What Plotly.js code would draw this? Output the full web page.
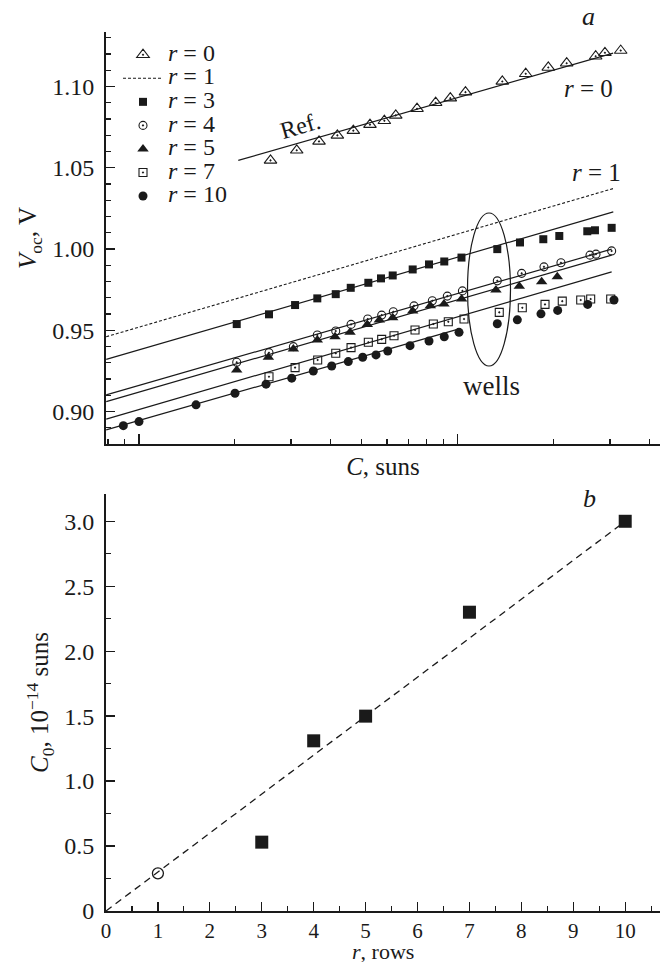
<!DOCTYPE html>
<html><head><meta charset="utf-8">
<script src="https://cdn.plot.ly/plotly-3.0.1.min.js"></script>
<style>html,body{margin:0;padding:0;background:#fff}</style>
</head><body><div id="chart" style="width:667px;height:964px"></div>
<script>
// ---- Panel a: Voc vs C (log) ----
const r0C = [2.587,3.126,3.672,4.192,4.704,5.305,5.885,6.390,7.450,8.523,9.474,10.57,13.79,16.33,19.22,21.95,27.06,28.93,32.42];
const r0V = [1.0545,1.0607,1.0662,1.0699,1.0728,1.0765,1.0789,1.0822,1.0863,1.0900,1.0928,1.0965,1.1031,1.1078,1.1117,1.1143,1.1186,1.1207,1.1221];
const r3C = [2.027,2.559,3.089,3.627,4.143,4.617,5.242,5.744,6.251,7.221,8.124,9.070,10.27,13.30,15.67,18.54,20.81,25.47,26.92,30.37];
const r3V = [0.9538,0.9598,0.9655,0.9696,0.9722,0.9761,0.9792,0.9819,0.9837,0.9874,0.9905,0.9923,0.9947,0.9999,1.0040,1.0060,1.0080,1.0109,1.0115,1.0130];
const r4C = [2.027,2.559,3.051,3.627,4.143,4.627,5.219,5.773,6.278,7.290,8.321,9.271,10.34,13.30,15.86,18.63,21.06,25.97,27.12,30.37];
const r4V = [0.9303,0.9362,0.9399,0.9471,0.9495,0.9536,0.9569,0.9593,0.9614,0.9650,0.9681,0.9710,0.9742,0.9804,0.9850,0.9890,0.9915,0.9962,0.9968,0.9988];
const r5C = [2.027,2.547,3.051,3.627,4.122,4.593,5.203,5.675,6.251,7.221,8.202,9.050,10.28,13.17,15.59,18.32,20.51];
const r5V = [0.9255,0.9334,0.9385,0.9440,0.9460,0.9487,0.9536,0.9563,0.9577,0.9618,0.9650,0.9661,0.9692,0.9747,0.9771,0.9798,0.9829];
const r7C = [2.559,3.089,3.637,4.143,4.627,5.242,5.773,6.310,7.344,8.381,9.338,10.46,13.49,15.93,18.77,21.26,24.29,26.10,30.16];
const r7V = [0.9214,0.9270,0.9317,0.9358,0.9393,0.9426,0.9444,0.9466,0.9501,0.9538,0.9552,0.9569,0.9610,0.9638,0.9659,0.9679,0.9686,0.9692,0.9692];
const r10C = [0.894,1.001,1.511,2.002,2.505,3.015,3.524,4.024,4.536,5.033,5.540,6.030,7.084,8.124,9.070,10.09,13.30,15.37,18.23,20.57,25.54,30.89];
const r10V = [0.8913,0.8938,0.9041,0.9112,0.9168,0.9205,0.9249,0.9280,0.9307,0.9334,0.9348,0.9372,0.9405,0.9434,0.9460,0.9487,0.9540,0.9564,0.9601,0.9622,0.9659,0.9686];
// fitted straight lines (end points)
const fit0C = [2.05, 30.7],  fit0V = [1.0545, 1.1205];
const fit1C = [0.79, 30.73], fit1V = [0.9460, 1.0372];
const fit3C = [0.79, 30.73], fit3V = [0.9321, 1.0228];
const fit4C = [0.79, 30.37], fit4V = [0.9102, 0.9999];
const fit5C = [0.79, 30.37], fit5V = [0.9061, 0.9962];
const fit7C = [0.79, 30.37], fit7V = [0.8953, 0.9859];
const fit10C = [0.79, 10.16], fit10V = [0.8887, 0.9510];
const legendLabels = ['0', '1', '3', '4', '5', '7', '10'];
// ---- Panel b: C0 vs r ----
const rOpen = [1], c0Open = [0.29];
const rRows = [3, 4, 5, 7, 10];
const c0Rows = [0.53, 1.31, 1.50, 2.30, 3.00];
const fitR = [0, 10], fitC0 = [0, 3.0];
const bTickVals = [0, 0.5, 1.0, 1.5, 2.0, 2.5, 3.0];
const bTickText = ['0', '0.5', '1.0', '1.5', '2.0', '2.5', '3.0'];

const K = '#1a1a1a';
const FONT = 'Liberation Serif, Times New Roman, serif';
const legName = i => '<span style="font-size:24px"><i>r</i> = ' + legendLabels[i] + '</span>';

function line(x, y, dash, xa, ya, w) {
  return {x, y, xaxis: xa, yaxis: ya, mode: 'lines', showlegend: false, hoverinfo: 'skip',
    line: {color: K, width: w || 1.2, dash: dash || 'solid'}};
}
function pts(name, x, y, symbol, size, lw) {
  return {x, y, name, mode: 'markers', xaxis: 'x', yaxis: 'y',
    marker: {symbol, size, color: K, line: {color: K, width: lw}}};
}

const traces = [
  line(fit0C, fit0V, 'solid', 'x', 'y'),
  line(fit3C, fit3V, 'solid', 'x', 'y'),
  line(fit4C, fit4V, 'solid', 'x', 'y'),
  line(fit5C, fit5V, 'solid', 'x', 'y'),
  line(fit7C, fit7V, 'solid', 'x', 'y'),
  line(fit10C, fit10V, 'solid', 'x', 'y'),
  pts(legName(0), r0C, r0V, 'triangle-up-open-dot', 11, 1.1),
  Object.assign(line(fit1C, fit1V, '3px,2px', 'x', 'y', 1.1), {showlegend: true, name: legName(1)}),
  pts(legName(2), r3C, r3V, 'square', 8, 0),
  pts(legName(3), r4C, r4V, 'circle-open-dot', 8, 1.1),
  pts(legName(4), r5C, r5V, 'triangle-up', 10, 0),
  pts(legName(5), r7C, r7V, 'square-open-dot', 8, 1.1),
  pts(legName(6), r10C, r10V, 'circle', 9, 0),
  line(fitR, fitC0, '7px,5px', 'x2', 'y2', 1.3),
  {x: rOpen, y: c0Open, xaxis: 'x2', yaxis: 'y2', mode: 'markers', showlegend: false,
   marker: {symbol: 'circle-open', size: 11, color: K, line: {color: K, width: 1.3}}},
  {x: rRows, y: c0Rows, xaxis: 'x2', yaxis: 'y2', mode: 'markers', showlegend: false,
   marker: {symbol: 'square', size: 13, color: K}}
];

const TF = {family: FONT, size: 24, color: K};
const TT = {family: FONT, size: 25, color: K};
const axBase = {showline: true, linewidth: 2, linecolor: K, showgrid: false, zeroline: false,
  ticks: 'inside', tickcolor: K, tickwidth: 1.3, ticklen: 9, tickfont: TF};

const L = 106, T = 32, B = 53, R = 7;
const W = 667, H = 964;
const pw = W - L - R, ph = H - T - B;
const px = v => (v - L) / pw, py = v => (H - B - v) / ph;

function note(x, y, text, size, angle, yanchor) {
  return {xref: 'paper', yref: 'paper', x: px(x), y: py(y), xanchor: 'center', yanchor: yanchor || 'middle',
    text, showarrow: false, textangle: angle || 0, font: {family: FONT, size, color: K}};
}
const rowsTitle = Object.assign(note(383, 964, '<i>r</i>, rows', 22, 0, 'bottom'), {height: 22, valign: 'middle'});

const layout = {
  width: W, height: H,
  margin: {l: L, r: R, t: T, b: B},
  paper_bgcolor: '#fff', plot_bgcolor: '#fff',
  font: {family: FONT, color: K, size: 20},
  showlegend: true,
  legend: {x: px(118), y: py(38), xanchor: 'left', yanchor: 'top', bgcolor: 'rgba(0,0,0,0)',
    font: {family: FONT, size: 15.8, color: K}, itemwidth: 40, tracegroupgap: 0},
  xaxis: Object.assign({}, axBase, {type: 'log', domain: [0, 1], anchor: 'y',
    range: [-0.103, 1.634], dtick: 1, ticklen: 10, showticklabels: false,
    minor: {dtick: 'D1', ticks: 'inside', ticklen: 5.5, tickwidth: 1.2, tickcolor: K},
    title: {text: '<i>C</i>, suns', font: TT, standoff: 12}}),
  yaxis: Object.assign({}, axBase, {domain: [py(444), 1], anchor: 'x',
    range: [0.88, 1.1335], tick0: 0.9, dtick: 0.05, tickformat: '.2f', ticklabelstandoff: 5,
    minor: {dtick: 0.01, tick0: 0.9, ticks: 'inside', ticklen: 5, tickwidth: 1.2, tickcolor: K},
    title: {text: '<i>V</i><sub>oc</sub>, V', font: TT, standoff: 8}}),
  xaxis2: Object.assign({}, axBase, {domain: [0, 1], anchor: 'y2',
    range: [0, 10.67], tick0: 0, dtick: 1, tickfont: {family: FONT, size: 21, color: K},
    minor: {dtick: 0.5, tick0: 0, ticks: 'inside', ticklen: 5.5, tickwidth: 1.2, tickcolor: K}}),
  yaxis2: Object.assign({}, axBase, {domain: [0, py(494)], anchor: 'x2',
    range: [0, 3.21], tickmode: 'array', tickvals: bTickVals, ticktext: bTickText, ticklabelstandoff: 5,
    minor: {tickmode: 'linear', dtick: 0.25, tick0: 0, ticks: 'inside', ticklen: 5, tickwidth: 1.2, tickcolor: K},
    title: {text: '<i>C</i><sub>0</sub>, 10<sup>\u221214</sup> suns', font: TT, standoff: 8}}),
  shapes: [
    {type: 'circle', xref: 'paper', yref: 'paper', x0: px(467.5), x1: px(510.5), y0: py(366), y1: py(213),
     line: {color: K, width: 1.2}}
  ],
  annotations: [
    note(588, 17, '<i>a</i>', 26),
    note(588, 88, '<i>r</i> = 0', 25),
    note(596, 172, '<i>r</i> = 1', 25),
    note(300, 126, 'Ref.', 24, -16),
    note(491.5, 386, 'wells', 27),
    note(589, 498, '<i>b</i>', 26),
    rowsTitle
  ]
};

Plotly.newPlot('chart', traces, layout, {displayModeBar: false, staticPlot: true});
</script></body></html>
